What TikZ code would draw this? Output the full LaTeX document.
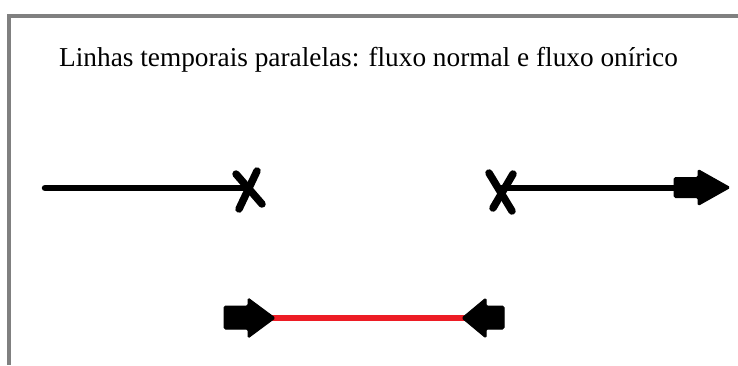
\documentclass[tikz,border=0pt]{standalone}
\usepackage{fontspec}
\setmainfont{Liberation Serif}
\definecolor{framegray}{RGB}{128,128,128}
\definecolor{paintred}{RGB}{237,28,36}
\begin{document}
\begin{tikzpicture}[x=1pt,y=-1pt,
  frameline/.style={draw=framegray,line width=4pt},
  timeline/.style={draw=black,line width=6.5pt,line cap=round},
  redline/.style={draw=paintred,line width=6pt},
  crossmark/.style={draw=black,line width=7.5pt,line cap=round},
  blockarrow/.style={fill=black,draw=black,line width=1pt,rounded corners=1.5pt,line join=round}]
\useasboundingbox (0,0) rectangle (738,365);
% frame
\coordinate (ftl) at (9,16);
\coordinate (ftr) at (738,16);
\coordinate (fbl) at (9,365);
\draw[frameline] (ftr) -- (ftl) -- (fbl);
% title
\node[anchor=base west,inner sep=0pt,font=\fontsize{27.3}{30}\selectfont] (title) at (59,66)
  {Linhas temporais paralelas: fluxo normal e fluxo onírico};
% timeline 1
\coordinate (a1) at (45,188);
\coordinate (x1) at (248,188);
\draw[timeline] (a1) -- (x1);
\draw[crossmark] (236,174) -- (262,204);
\draw[crossmark] (257,171) -- (239,209);
% timeline 2
\coordinate (x2) at (500,188);
\coordinate (b2) at (676,188);
\draw[timeline] (x2) -- (b2);
\draw[crossmark] (489,173) -- (512,211);
\draw[crossmark] (513,174) -- (493,208);
\draw[blockarrow] (674,177.5) -- (698,177.5) -- (698,169.5) -- (730,187.5) -- (698,205.5) -- (698,197.5) -- (674,197.5) -- cycle;
% red segment
\coordinate (r1) at (272,318);
\coordinate (r2) at (465,318);
\draw[redline] (r1) -- (r2);
\draw[blockarrow] (224,306) -- (248,306) -- (248,298) -- (275,318) -- (248,338) -- (248,329) -- (224,329) -- cycle;
\draw[blockarrow] (504,306) -- (486,306) -- (486,298) -- (462,318) -- (486,338) -- (486,329) -- (504,329) -- cycle;
\end{tikzpicture}
\end{document}
